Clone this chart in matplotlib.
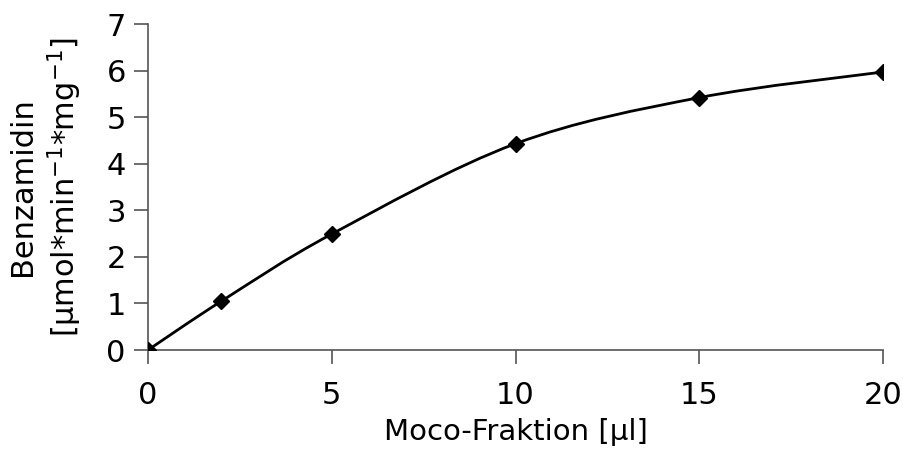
import matplotlib
matplotlib.use("Agg")
import matplotlib.pyplot as plt
from matplotlib.path import Path
from matplotlib.patches import PathPatch
import numpy as np

# Moco-Fraktion [µl] vs Benzamidin activity
fraction = [0, 2, 5, 10, 15, 20]
activity = [0.0, 1.05, 2.49, 4.43, 5.42, 5.97]

x_ticks = [0, 5, 10, 15, 20]
y_ticks = [0, 1, 2, 3, 4, 5, 6, 7]


def smooth_path(xs, ys):
    # Catmull-Rom style bezier through the points (like Excel "smoothed line")
    pts = np.column_stack([xs, ys]).astype(float)
    verts = [pts[0]]
    codes = [Path.MOVETO]
    n = len(pts)
    for i in range(n - 1):
        p0 = pts[i - 1] if i > 0 else pts[i]
        p1 = pts[i]
        p2 = pts[i + 1]
        p3 = pts[i + 2] if i + 2 < n else pts[i + 1]
        c1 = p1 + (p2 - p0) / 6.0
        c2 = p2 - (p3 - p1) / 6.0
        verts += [c1, c2, p2]
        codes += [Path.CURVE4] * 3
    return Path(verts, codes)


fig = plt.figure(figsize=(9.04, 4.68), dpi=100)
ax = fig.add_axes([0.1637, 0.2521, 0.8131, 0.6966])

ax.add_patch(PathPatch(smooth_path(fraction, activity), facecolor="none",
                       edgecolor="black", lw=2.0, zorder=2))
ax.plot(fraction, activity, linestyle="none", marker="D", color="black",
        markersize=8, zorder=3)

ax.set_xlim(0, 20)
ax.set_ylim(0, 7)
ax.set_xticks(x_ticks)
ax.set_yticks(y_ticks)
for s in ["top", "right"]:
    ax.spines[s].set_visible(False)
for s in ["left", "bottom"]:
    ax.spines[s].set_color("#555555")
    ax.spines[s].set_linewidth(1.2)
ax.tick_params(direction="out", length=10, width=1.2, color="#555555",
               labelsize=22, pad=6)
ax.tick_params(axis="x", pad=12)

ax.set_xlabel("Moco-Fraktion [µl]", fontsize=21, labelpad=6)
ax.set_ylabel("Benzamidin\n[µmol*min$^{-1}$*mg$^{-1}$]", fontsize=22,
              labelpad=16, linespacing=1.3)

fig.savefig("out.png", dpi=100)
